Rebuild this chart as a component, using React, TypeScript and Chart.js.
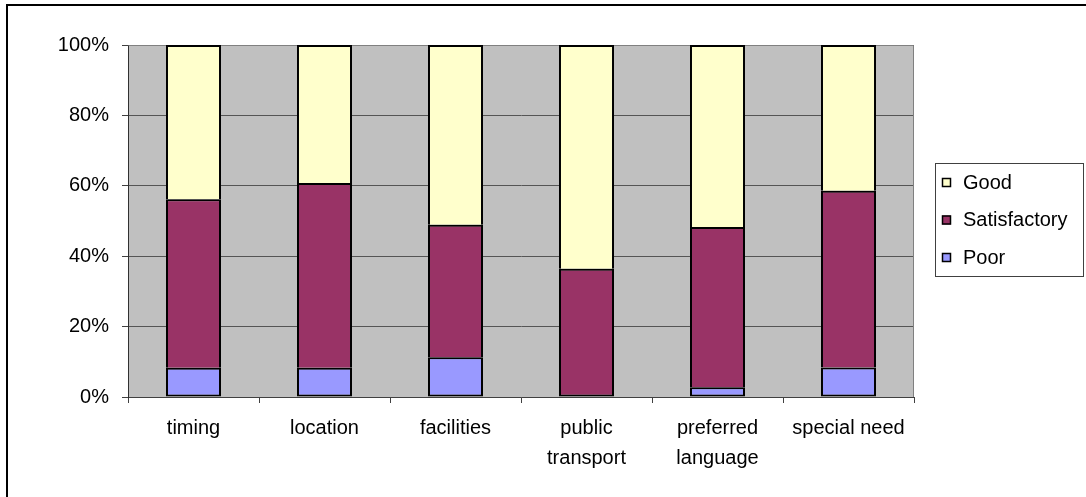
import React, { useEffect, useRef } from "react";
import { Chart, registerables } from "chart.js";

Chart.register(...registerables);

const categories: (string | string[])[] = [
  "timing",
  "location",
  "facilities",
  ["public", "transport"],
  ["preferred", "language"],
  "special need",
];
const poor = [8.3, 8.3, 11.3, 0, 2.8, 8.4];
const satisfactory = [47.9, 52.5, 37.6, 36.4, 45.5, 50.2];
const good = [43.8, 39.2, 51.1, 63.6, 51.7, 41.4];
const yTicks = [0, 20, 40, 60, 80, 100];

const FONT = "'Liberation Sans', Arial, sans-serif";

const framePlugin = {
  id: "frame",
  beforeDraw(chart: any) {
    const { ctx, chartArea } = chart;
    ctx.save();
    ctx.fillStyle = "#ffffff";
    ctx.fillRect(0, 0, chart.width, chart.height);
    ctx.strokeStyle = "#000000";
    ctx.lineWidth = 2;
    ctx.strokeRect(7, 5, 2000, 2000);
    ctx.fillStyle = "#C0C0C0";
    ctx.fillRect(chartArea.left, chartArea.top, chartArea.right - chartArea.left, chartArea.bottom - chartArea.top);
    ctx.restore();
  },
  beforeDatasetsDraw(chart: any) {
    const { ctx, chartArea } = chart;
    ctx.save();
    ctx.strokeStyle = "#808080";
    ctx.lineWidth = 1;
    ctx.beginPath();
    ctx.moveTo(Math.round(chartArea.left) + 0.5, Math.round(chartArea.top) + 0.5);
    ctx.lineTo(Math.round(chartArea.right) - 0.5, Math.round(chartArea.top) + 0.5);
    ctx.lineTo(Math.round(chartArea.right) - 0.5, Math.round(chartArea.bottom));
    ctx.stroke();
    ctx.restore();
  },
};

const boxLegendPlugin = {
  id: "boxLegend",
  afterDraw(chart: any) {
    const { ctx } = chart;
    const ds = [...chart.data.datasets].reverse();
    ctx.save();
    ctx.strokeStyle = "#404040";
    ctx.lineWidth = 1;
    ctx.strokeRect(935.5, 163.5, 148, 113);
    ctx.font = `20px ${FONT}`;
    ctx.textBaseline = "middle";
    ctx.textAlign = "left";
    const rows = [182, 219.5, 257];
    ds.forEach((d: any, i: number) => {
      const y = rows[i];
      ctx.fillStyle = d.backgroundColor;
      ctx.fillRect(942, y - 4, 9, 9);
      ctx.strokeStyle = "#000000";
      ctx.lineWidth = 1.5;
      ctx.strokeRect(942.5, y - 3.5, 8, 8);
      ctx.fillStyle = "#000000";
      ctx.fillText(d.label, 963, y + 1);
    });
    ctx.restore();
  },
};

const skipFor = (c: any) => {
  const all = c.chart.data.datasets;
  for (let k = 0; k < c.datasetIndex; k++) {
    if (Number(all[k].data[c.dataIndex]) > 0) return "start";
  }
  return false;
};

export default function App() {
  const ref = useRef<HTMLCanvasElement>(null);
  useEffect(() => {
    if (!ref.current) return;
    const chart = new Chart(ref.current, {
      type: "bar",
      data: {
        labels: categories as any,
        datasets: [
          { label: "Poor", data: poor, backgroundColor: "#9999FF" },
          { label: "Satisfactory", data: satisfactory, backgroundColor: "#993366" },
          { label: "Good", data: good, backgroundColor: "#FFFFCC" },
        ],
      },
      options: {
        responsive: false,
        animation: false,
        layout: { padding: { left: 0, top: 45, right: 172, bottom: 0 } },
        datasets: {
          bar: {
            categoryPercentage: 1,
            barPercentage: 0.42,
            borderColor: "#000000",
            borderWidth: 2,
            borderSkipped: skipFor as any,
          },
        },
        plugins: { legend: { display: false }, tooltip: { enabled: false } },
        scales: {
          x: {
            stacked: true,
            afterFit: (s: any) => { s.height = 100; },
            grid: { offset: true, drawOnChartArea: false, drawTicks: true, tickLength: 6, color: "#404040" },
            border: { display: true, color: "#404040", width: 1 },
            ticks: { color: "#000000", padding: 10, maxRotation: 0, autoSkip: false, font: { family: FONT, size: 20, lineHeight: 1.5 } },
          },
          y: {
            stacked: true,
            min: yTicks[0],
            max: yTicks[yTicks.length - 1],
            afterFit: (s: any) => { s.width = 128; },
            afterBuildTicks: (s: any) => { s.ticks = yTicks.map((v) => ({ value: v })); },
            grid: { color: "#555555", tickLength: 6, tickColor: "#404040" },
            border: { display: true, color: "#303030", width: 1 },
            ticks: { color: "#000000", padding: 13, font: { family: FONT, size: 20 }, callback: (v: any) => `${v}%` },
          },
        },
      },
      plugins: [framePlugin, boxLegendPlugin],
    });
    return () => chart.destroy();
  }, []);
  return (
    <div style={{ position: "absolute", left: 0, top: 0, width: 1086, height: 497 }}>
      <canvas ref={ref} width={1086} height={497} style={{ display: "block" }} />
    </div>
  );
}
